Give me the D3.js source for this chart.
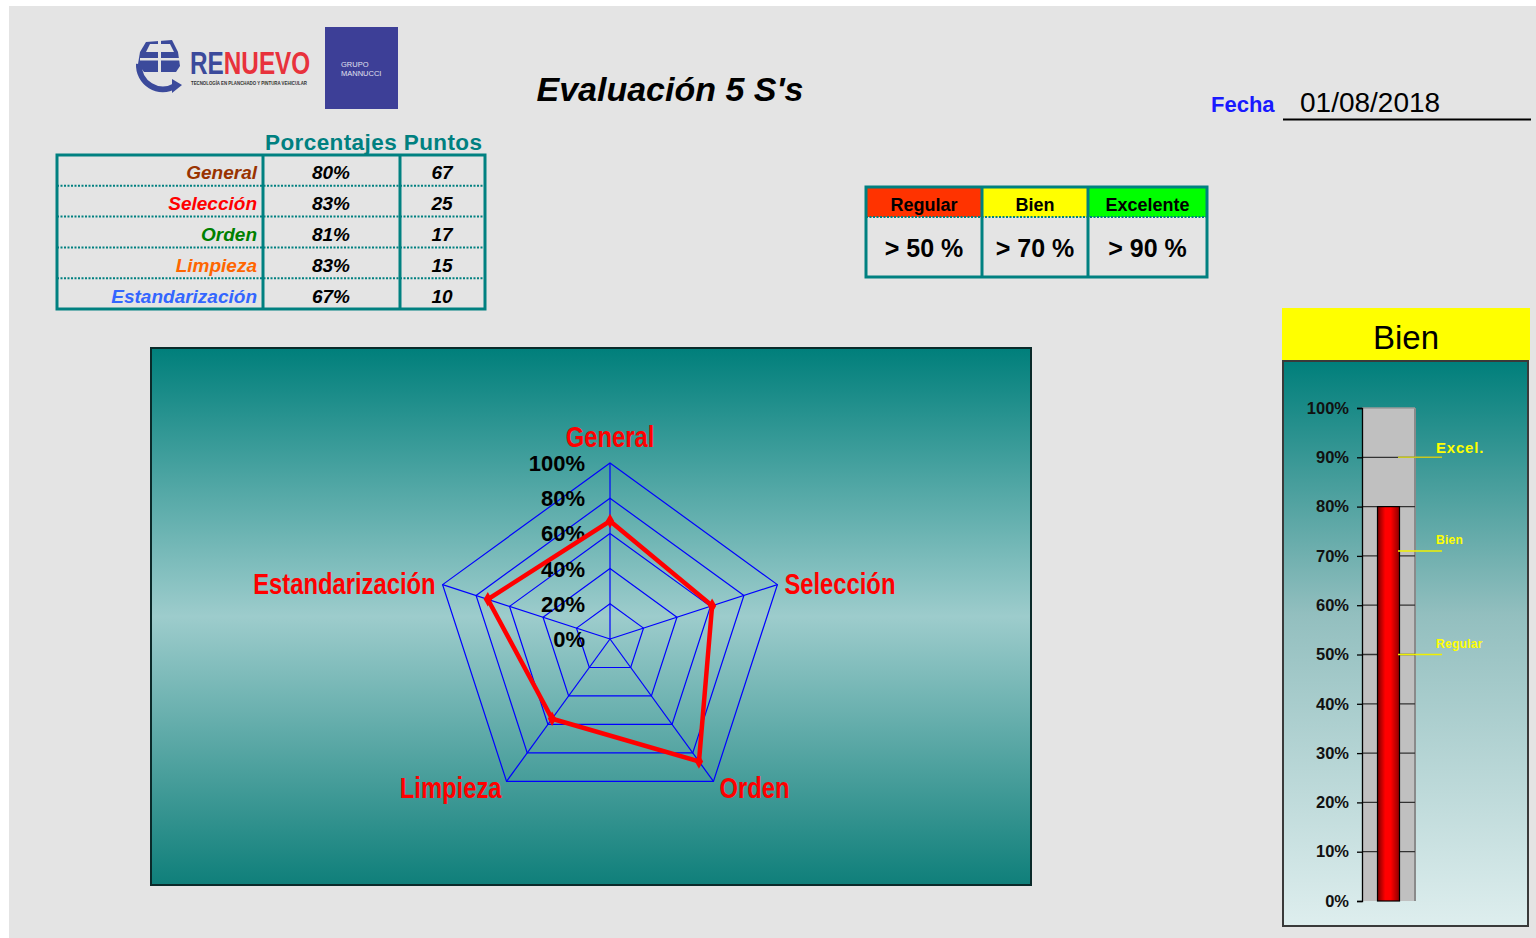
<!DOCTYPE html>
<html><head><meta charset="utf-8">
<script src="https://cdn.jsdelivr.net/npm/d3@7"></script>
<style>
html,body{margin:0;padding:0;background:#fff;}
svg{display:block;}
text{font-family:"Liberation Sans",Arial,sans-serif;}
</style></head>
<body>
<svg id="c" width="1536" height="938"></svg>
<script>
// ---------- DATA ----------
const tableCategories = ["General","Selección","Orden","Limpieza","Estandarización"];
const tableColors = ["#993300","#ff0000","#008000","#ff6600","#3366ff"];
const tablePercents = ["80%","83%","81%","83%","67%"];
const tablePoints = [67,25,17,15,10];
const tableHeaders = ["Porcentajes","Puntos"];

const levelNames = ["Regular","Bien","Excelente"];
const levelColors = ["#ff3300","#ffff00","#00ff00"];
const levelLimits = ["> 50 %","> 70 %","> 90 %"];

const radarCategories = ["General","Selección","Orden","Limpieza","Estandarización"];
const radarValues = [0.67,0.61,0.86,0.56,0.73];
const radarTicks = [0,0.2,0.4,0.6,0.8,1.0];

const thermoStatus = "Bien";
const thermoValue = 0.80;
const thermoTicks = [0,0.1,0.2,0.3,0.4,0.5,0.6,0.7,0.8,0.9,1.0];
const thermoMarkers = ["Excel.","Bien","Regular"];
const thermoMarkerValues = [0.90,0.71,0.50];

const title = "Evaluación 5 S's";
const dateLabel = "Fecha";
const dateValue = "01/08/2018";

// ---------- DRAW ----------
const svg = d3.select("#c");
const defs = svg.append("defs");
// condense helper (no narrow font installed)
function condense(sel, k){ sel.each(function(){ const l=this.getComputedTextLength(); d3.select(this).attr("textLength",l*k).attr("lengthAdjust","spacingAndGlyphs"); }); return sel; }

svg.append("rect").attr("x",9).attr("y",6).attr("width",1536-9).attr("height",938-6).attr("fill","#e4e4e4");

// ---- Logo ----
const logo = svg.append("g");
const blue = "#3b4a9b";
logo.append("path").attr("d","M139,64 A24,24 0 0 0 175,86").attr("fill","none").attr("stroke",blue).attr("stroke-width",6);
logo.append("path").attr("d","M172,79 L182,85 L172,93 Z").attr("fill",blue);
logo.append("path").attr("d","M140,52 L146,42 L172,40 L178,52 L180,66 L176,72 L144,72 L138,64 Z").attr("fill",blue);
logo.append("path").attr("d","M150,44 L170,44 L174,52 L146,52 Z").attr("fill","#e4e4e4");
logo.append("rect").attr("x",158).attr("y",40).attr("width",3).attr("height",34).attr("fill","#e4e4e4");
logo.append("rect").attr("x",140).attr("y",58).attr("width",40).attr("height",2.5).attr("fill","#e4e4e4");
logo.append("text").attr("transform","translate(190,74) scale(0.76,1)").attr("font-weight","bold").attr("font-size",32)
  .call(t=>{t.append("tspan").attr("fill",blue).text("RE");t.append("tspan").attr("fill","#e8323c").text("NUEVO");});
logo.append("text").attr("x",191).attr("y",85).attr("font-size",5).attr("font-weight","bold").attr("fill","#333")
  .attr("textLength",116).attr("lengthAdjust","spacingAndGlyphs").text("TECNOLOGÍA EN PLANCHADO Y PINTURA VEHICULAR");
logo.append("rect").attr("x",325).attr("y",27).attr("width",73).attr("height",82).attr("fill","#3d3f97");
logo.append("text").attr("x",341).attr("y",67).attr("font-size",7.5).attr("fill","#e0e0f0").text("GRUPO");
logo.append("text").attr("x",341).attr("y",76).attr("font-size",7.5).attr("fill","#e0e0f0").text("MANNUCCI");

// ---- Title ----
svg.append("text").attr("x",670).attr("y",101).attr("text-anchor","middle").attr("font-size",34)
  .attr("font-weight","bold").attr("font-style","italic").attr("fill","#000").text(title);

// ---- Fecha ----
svg.append("text").attr("x",1211).attr("y",112).attr("font-size",22).attr("font-weight","bold").attr("fill","#1a1aff").text(dateLabel);
svg.append("text").attr("x",1300).attr("y",112).attr("font-size",28).attr("fill","#000").text(dateValue);
svg.append("line").attr("x1",1283).attr("x2",1531).attr("y1",119.5).attr("y2",119.5).attr("stroke","#000").attr("stroke-width",2);

// ---- Table ----
const teal = "#008080";
const tbl = svg.append("g");
const tX = [57,263,400,485];
const tY0 = 155, rowH = 30.8;
const rowY = d3.scaleBand().domain(d3.range(tableCategories.length)).range([tY0, tY0+rowH*5]);
tbl.append("text").attr("x",265).attr("y",150).attr("font-size",22.5).attr("font-weight","bold").attr("fill",teal)
  .attr("textLength",217).attr("lengthAdjust","spacing").text(tableHeaders.join(" "));
tableCategories.forEach((c,i)=>{
  const y = rowY(i), cy = y+rowY.bandwidth()/2;
  if(i>0) tbl.append("line").attr("x1",tX[0]).attr("x2",tX[3]).attr("y1",y).attr("y2",y)
    .attr("stroke",teal).attr("stroke-width",2).attr("stroke-dasharray","2,1.5");
  tbl.append("text").attr("x",257).attr("y",cy+9).attr("text-anchor","end").attr("font-size",19).attr("font-weight","bold")
    .attr("font-style","italic").attr("fill",tableColors[i]).text(c);
  tbl.append("text").attr("x",331).attr("y",cy+9).attr("text-anchor","middle").attr("font-size",19).attr("font-weight","bold")
    .attr("font-style","italic").attr("fill","#000").text(tablePercents[i]);
  tbl.append("text").attr("x",442).attr("y",cy+9).attr("text-anchor","middle").attr("font-size",19).attr("font-weight","bold")
    .attr("font-style","italic").attr("fill","#000").text(tablePoints[i]);
});
tbl.append("rect").attr("x",tX[0]).attr("y",tY0).attr("width",tX[3]-tX[0]).attr("height",rowH*5).attr("fill","none").attr("stroke",teal).attr("stroke-width",3);
[tX[1],tX[2]].forEach(x=>tbl.append("line").attr("x1",x).attr("x2",x).attr("y1",tY0).attr("y2",tY0+rowH*5).attr("stroke",teal).attr("stroke-width",3));

// ---- Levels box ----
const lg = svg.append("g");
const lX = [866,982,1088,1207], lY0=187, lY1=217, lY2=277;
levelNames.forEach((n,i)=>{
  lg.append("rect").attr("x",lX[i]).attr("y",lY0).attr("width",lX[i+1]-lX[i]).attr("height",lY1-lY0).attr("fill",levelColors[i]);
  lg.append("text").attr("x",(lX[i]+lX[i+1])/2).attr("y",211).attr("text-anchor","middle").attr("font-size",18).attr("font-weight","bold").attr("fill","#000").text(n);
  lg.append("text").attr("x",(lX[i]+lX[i+1])/2).attr("y",257).attr("text-anchor","middle").attr("font-size",25).attr("font-weight","bold").attr("fill","#000").text(levelLimits[i]);
});
lg.append("line").attr("x1",lX[0]).attr("x2",lX[3]).attr("y1",lY1).attr("y2",lY1).attr("stroke",teal).attr("stroke-width",2).attr("stroke-dasharray","2,1.5");
lg.append("rect").attr("x",lX[0]).attr("y",lY0).attr("width",lX[3]-lX[0]).attr("height",lY2-lY0).attr("fill","none").attr("stroke",teal).attr("stroke-width",3);
[lX[1],lX[2]].forEach(x=>lg.append("line").attr("x1",x).attr("x2",x).attr("y1",lY0).attr("y2",lY2).attr("stroke",teal).attr("stroke-width",3));

// ---- Radar panel ----
const rg = defs.append("linearGradient").attr("id","rgrad").attr("x1",0).attr("x2",0).attr("y1",0).attr("y2",1);
rg.append("stop").attr("offset","0%").attr("stop-color","#007f7b");
rg.append("stop").attr("offset","50%").attr("stop-color","#9dcccc");
rg.append("stop").attr("offset","100%").attr("stop-color","#0f7f7a");
svg.append("rect").attr("x",151).attr("y",348).attr("width",880).attr("height",537).attr("fill","url(#rgrad)")
  .attr("stroke","#0a2a2a").attr("stroke-width",2);

const cx = 610, cy = 639;
const r = d3.scaleLinear().domain([0,1]).range([0,176]);
const ang = d3.scaleLinear().domain([0,radarCategories.length]).range([0,2*Math.PI]);
const pt = (i,v)=>[cx + r(v)*Math.sin(ang(i)), cy - r(v)*Math.cos(ang(i))];
const radar = svg.append("g");
radarTicks.filter(t=>t>0).forEach(t=>{
  radar.append("path").attr("d", d3.line()(radarCategories.map((c,i)=>pt(i,t))) + "Z")
    .attr("fill","none").attr("stroke","#0000ff").attr("stroke-width",1.2);
});
radarCategories.forEach((c,i)=>{
  const p = pt(i,1);
  radar.append("line").attr("x1",cx).attr("y1",cy).attr("x2",p[0]).attr("y2",p[1]).attr("stroke","#0000ff").attr("stroke-width",1.2);
});
radarTicks.forEach(t=>{
  radar.append("text").attr("x",585).attr("y",cy - r(t)+8).attr("text-anchor","end").attr("font-size",22)
    .attr("font-weight","bold").attr("fill","#000").text(d3.format(".0%")(t));
});
radar.append("path").attr("d", d3.line()(radarValues.map((v,i)=>pt(i,v))) + "Z")
  .attr("fill","none").attr("stroke","#ff0000").attr("stroke-width",4.5).attr("stroke-linejoin","miter");
radarValues.forEach((v,i)=>{
  const p = pt(i,v);
  radar.append("path").attr("d",d3.symbol(d3.symbolDiamond,60)()).attr("transform",`translate(${p[0]},${p[1]})`).attr("fill","#ff0000");
});
const labelPos = [
  {dx:0, dy:-16, anchor:"middle"},
  {dx:7, dy:9, anchor:"start"},
  {dx:6, dy:17, anchor:"start"},
  {dx:-5, dy:17, anchor:"end"},
  {dx:-7, dy:9, anchor:"end"}
];
radarCategories.forEach((c,i)=>{
  const p = pt(i,1), lp = labelPos[i];
  radar.append("text").attr("x",p[0]+lp.dx).attr("y",p[1]+lp.dy).attr("text-anchor",lp.anchor)
    .attr("font-size",29).attr("font-weight","bold").attr("fill","#ff0000").text(c).call(condense,0.82);
});

// ---- Thermometer ----
svg.append("rect").attr("x",1282).attr("y",308).attr("width",248).attr("height",52).attr("fill","#ffff00");
svg.append("text").attr("x",1406).attr("y",349).attr("text-anchor","middle").attr("font-size",33).attr("fill","#000").text(thermoStatus);
const tg = defs.append("linearGradient").attr("id","tgrad").attr("x1",0).attr("x2",0).attr("y1",0).attr("y2",1);
tg.append("stop").attr("offset","0%").attr("stop-color","#007f7b");
tg.append("stop").attr("offset","45%").attr("stop-color","#93bfbf");
tg.append("stop").attr("offset","100%").attr("stop-color","#deeeee");
svg.append("rect").attr("x",1283).attr("y",361).attr("width",245).attr("height",565).attr("fill","url(#tgrad)")
  .attr("stroke","#3a3a3a").attr("stroke-width",2);

const ty = d3.scaleLinear().domain([0,1]).range([901,408]);
const th = svg.append("g");
th.append("rect").attr("x",1362).attr("y",ty(1)).attr("width",53).attr("height",ty(0)-ty(1)).attr("fill","#c0c0c0");
th.append("line").attr("x1",1415).attr("x2",1415).attr("y1",ty(1)).attr("y2",ty(0)).attr("stroke","#8a8a8a").attr("stroke-width",2);
th.append("line").attr("x1",1362).attr("x2",1415).attr("y1",ty(1)).attr("y2",ty(1)).attr("stroke","#9a9a9a").attr("stroke-width",1.5);
thermoTicks.filter(t=>t>0 && t<1).forEach(t=>{
  th.append("line").attr("x1",1362).attr("x2",1415).attr("y1",ty(t)).attr("y2",ty(t)).attr("stroke","#333").attr("stroke-width",1.3);
});
const bg = defs.append("linearGradient").attr("id","bgrad").attr("x1",0).attr("x2",1).attr("y1",0).attr("y2",0);
bg.append("stop").attr("offset","0%").attr("stop-color","#7a0000");
bg.append("stop").attr("offset","35%").attr("stop-color","#ff0000");
bg.append("stop").attr("offset","60%").attr("stop-color","#ff0000");
bg.append("stop").attr("offset","100%").attr("stop-color","#8a0000");
th.append("rect").attr("x",1377.5).attr("y",ty(thermoValue)).attr("width",22).attr("height",ty(0)-ty(thermoValue))
  .attr("fill","url(#bgrad)").attr("stroke","#000").attr("stroke-width",1.2);
const axis = d3.axisLeft(ty).tickValues(thermoTicks).tickFormat(d3.format(".0%")).tickSize(5).tickPadding(8);
const ag = th.append("g").attr("transform","translate(1362,0)").call(axis);
ag.select(".domain").attr("stroke","#000").attr("stroke-width",1.3);
ag.selectAll(".tick line").attr("stroke","#000").attr("stroke-width",1.3);
ag.selectAll(".tick text").attr("font-family","Liberation Sans, Arial, sans-serif").attr("font-size",16.5).attr("font-weight","bold").attr("fill","#111");
const mSizes = [15,12,12];
thermoMarkers.forEach((m,i)=>{
  const y = ty(thermoMarkerValues[i]);
  th.append("line").attr("x1",1398).attr("x2",1442).attr("y1",y).attr("y2",y).attr("stroke", i===0?"#c8c820":"#f0f000").attr("stroke-width",1.5);
  th.append("text").attr("x",1436).attr("y",y-(i===0?4:7)).attr("font-size",mSizes[i]).attr("font-weight","bold")
    .attr("fill","#ffff00").attr("letter-spacing",i===0?0.8:0.3).text(m);
});
</script>
</body></html>
